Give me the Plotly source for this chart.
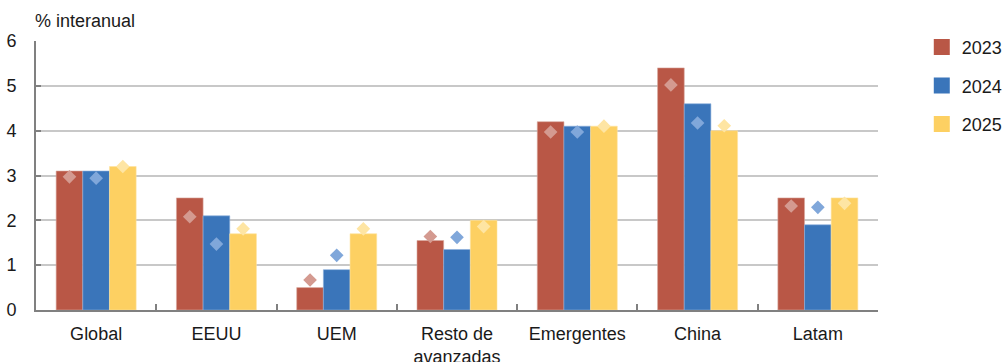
import plotly.graph_objects as go

categories = ["Global", "EEUU", "UEM", "Resto de<br>avanzadas", "Emergentes", "China", "Latam"]
years = ["2023", "2024", "2025"]
bars_2023 = [3.1, 2.5, 0.5, 1.55, 4.2, 5.4, 2.5]
bars_2024 = [3.1, 2.1, 0.9, 1.35, 4.1, 4.6, 1.9]
bars_2025 = [3.2, 1.7, 1.7, 2.0, 4.1, 4.0, 2.5]
prev_2023 = [2.97, 2.08, 0.67, 1.64, 3.97, 5.02, 2.32]
prev_2024 = [2.94, 1.47, 1.22, 1.62, 3.97, 4.17, 2.29]
prev_2025 = [3.2, 1.81, 1.81, 1.86, 4.1, 4.11, 2.38]
y_ticks = [0, 1, 2, 3, 4, 5, 6]

bar_colors = ["#B95746", "#3A75BA", "#FDD062"]
diamond_colors = ["#D49A90", "#80A7DA", "#FEE5A3"]
outline_colors = ["#D8A79E", "#8CAFDB", "#FEE3A0"]

fig = go.Figure()
bar_series = [bars_2023, bars_2024, bars_2025]
prev_series = [prev_2023, prev_2024, prev_2025]
for i, yr in enumerate(years):
    fig.add_trace(go.Bar(
        x=categories, y=bar_series[i], name=yr, offsetgroup=str(i), alignmentgroup="a",
        marker=dict(color=bar_colors[i], line=dict(color=outline_colors[i], width=0.6)),
        showlegend=False, hoverinfo="skip"))
for i, yr in enumerate(years):
    fig.add_trace(go.Scatter(
        x=categories, y=prev_series[i], mode="markers", offsetgroup=str(i), alignmentgroup="a",
        marker=dict(symbol="diamond", size=10.5, color=diamond_colors[i]),
        showlegend=False, hoverinfo="skip"))
for i, yr in enumerate(years):
    fig.add_trace(go.Scatter(
        x=[None], y=[None], mode="markers", name=yr, legendgroup=yr,
        marker=dict(symbol="square", size=16, color=bar_colors[i])))

fig.update_layout(
    width=1006, height=362,
    margin=dict(l=36, r=128, t=41, b=52, autoexpand=False),
    paper_bgcolor="white", plot_bgcolor="white",
    barmode="group", bargap=0.335, bargroupgap=0,
    scattermode="group",
    font=dict(family="Liberation Sans, Arial, sans-serif", size=18, color="#1a1a1a"),
    legend=dict(x=1.052, y=1.045, xanchor="left", yanchor="top",
                traceorder="grouped", tracegroupgap=12,
                font=dict(size=18), itemwidth=30, bgcolor="rgba(0,0,0,0)"),
    xaxis=dict(showline=True, linecolor="#808080", linewidth=2, automargin=False,
               ticks="inside", tickson="boundaries", ticklen=6, tickcolor="#808080", tickwidth=1.5,
               showgrid=False, tickfont=dict(size=18), ticklabelstandoff=6),
    yaxis=dict(range=[0, 6], tickvals=y_ticks, showline=True, linecolor="#808080", linewidth=2,
               automargin=False,
               ticks="inside", ticklen=5, tickcolor="#808080", tickwidth=1.5,
               showgrid=True, gridcolor="#C8C8C8", gridwidth=1.5, zeroline=False,
               tickfont=dict(size=18), ticklabelstandoff=14),
    annotations=[dict(text="% interanual", xref="paper", yref="paper", x=0, y=1.0,
                      xanchor="left", yanchor="bottom", yshift=8, xshift=-3, showarrow=False,
                      font=dict(size=18))],
)

fig.write_html("out.html")
